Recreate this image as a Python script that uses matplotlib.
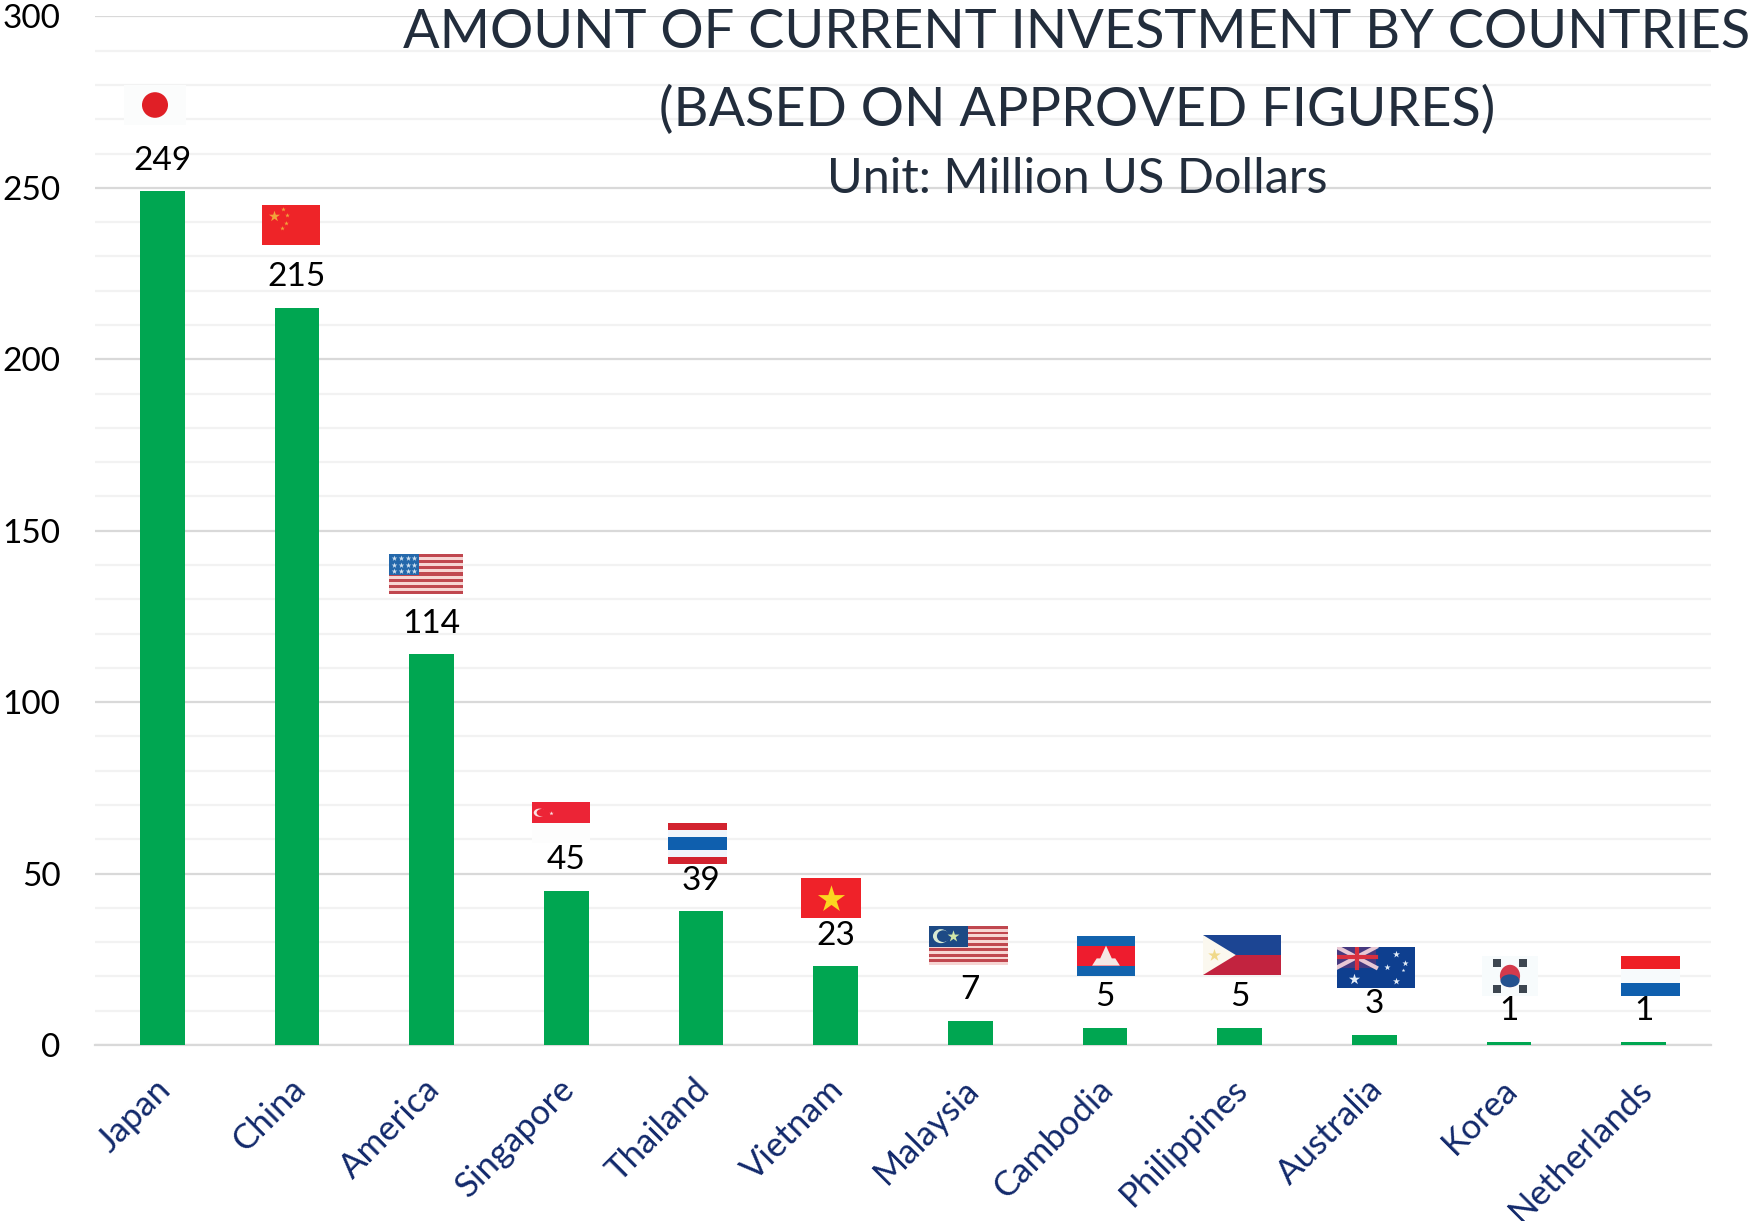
import matplotlib
matplotlib.use("Agg")
import matplotlib.pyplot as plt
from matplotlib.patches import Circle, Ellipse, Polygon, Rectangle
from matplotlib.transforms import ScaledTranslation
import numpy as np

plt.rcParams['font.family'] = ['Lato', 'DejaVu Sans']

countries = ["Japan", "China", "America", "Singapore", "Thailand", "Vietnam",
             "Malaysia", "Cambodia", "Philippines", "Australia", "Korea", "Netherlands"]
investment = [249, 215, 114, 45, 39, 23, 7, 5, 5, 3, 1, 1]
y_ticks = [0, 50, 100, 150, 200, 250, 300]
minor_ticks = [10, 20, 30, 40, 60, 70, 80, 90, 110, 120, 130, 140,
               160, 170, 180, 190, 210, 220, 230, 240, 260, 270, 280, 290]

W, H = 1750, 1221
# flag boxes in pixels: left, top, width, height
flag_boxes = [(124, 85, 62, 40), (262, 205, 58, 40), (389, 554, 74, 40), (532, 802, 58, 41),
              (668, 823, 59, 41), (801, 878, 60, 40), (929, 926, 79, 39), (1077, 936, 58, 40),
              (1203, 935, 78, 40), (1337, 947, 78, 41), (1482, 956, 56, 40), (1621, 956, 59, 40)]


def stripes(ax, colors, weights=None):
    weights = weights or [1] * len(colors)
    edges = np.cumsum([0] + weights) / sum(weights)
    for c, a, b in zip(colors, edges[:-1], edges[1:]):
        ax.add_patch(Rectangle((0, 1 - b), 1, b - a, color=c, lw=0))


def star(ax, x, y, r, color):
    ax.scatter([x], [y], marker="*", s=r, color=color, lw=0, zorder=5)


def us_like(ax, canton, width, n=13):
    stripes(ax, ["#c0474f" if i % 2 == 0 else "#f6d5d3" for i in range(n)])
    ax.add_patch(Rectangle((0, 0.47), width, 0.53, color=canton, lw=0, zorder=3))


def draw_flag(ax, name):
    if name == "Japan":
        ax.add_patch(Rectangle((0, 0), 1, 1, color="#fbfcfc", lw=0))
        ax.add_patch(Ellipse((0.5, 0.5), 0.42, 0.64, color="#e01f26", lw=0, zorder=3))
    elif name == "China":
        stripes(ax, ["#ee2428"])
        star(ax, 0.2, 0.72, 70, "#f2a33a")
        for x, y in [(0.36, 0.9), (0.43, 0.75), (0.42, 0.55), (0.34, 0.42)]:
            star(ax, x, y, 12, "#f2a33a")
    elif name == "America":
        us_like(ax, "#2468ab", 0.4)
        for x in [0.07, 0.16, 0.25, 0.34]:
            for y in [0.57, 0.73, 0.9]:
                star(ax, x, y, 18, "#cfe0ef")
    elif name == "Singapore":
        stripes(ax, ["#ec2436", "#fdfdfd"])
        ax.add_patch(Circle((0.13, 0.74), 0.1, color="#fbe4e4", lw=0, zorder=3))
        ax.add_patch(Circle((0.17, 0.74), 0.09, color="#ec2436", lw=0, zorder=4))
        star(ax, 0.33, 0.74, 10, "#fbe4e4")
    elif name == "Thailand":
        stripes(ax, ["#d2232f", "#f1f5fb", "#0f5fae", "#f1f5fb", "#d2232f"], [1, 1, 2, 1, 1])
    elif name == "Vietnam":
        stripes(ax, ["#ef2229"])
        star(ax, 0.5, 0.48, 420, "#fbd620")
    elif name == "Malaysia":
        us_like(ax, "#1d4a85", 0.5, n=14)
        ax.add_patch(Ellipse((0.15, 0.74), 0.2, 0.36, color="#d8ead3", lw=0, zorder=4))
        ax.add_patch(Ellipse((0.18, 0.74), 0.16, 0.3, color="#1d4a85", lw=0, zorder=5))
        star(ax, 0.3, 0.74, 80, "#cfe6a8")
    elif name == "Cambodia":
        stripes(ax, ["#1263ad", "#ee1c2e", "#1263ad"], [1, 2, 1])
        ax.add_patch(Polygon([(0.26, 0.26), (0.74, 0.26), (0.66, 0.44), (0.6, 0.44), (0.5, 0.76),
                              (0.4, 0.44), (0.34, 0.44)], color="#f5e8e5", lw=0, zorder=3))
    elif name == "Philippines":
        stripes(ax, ["#1c4593", "#c2233f"])
        ax.add_patch(Polygon([(0, 0), (0, 1), (0.42, 0.5)], color="#fbf8ef", lw=0, zorder=3))
        star(ax, 0.14, 0.5, 90, "#f0d98a")
    elif name == "Australia":
        stripes(ax, ["#0e3f8f"])
        ax.add_patch(Rectangle((0, 0.5), 0.5, 0.5, color="#46397f", lw=0, zorder=2))
        ax.plot([0, 0.5], [0.5, 1], color="#e8c8d4", lw=3, zorder=3)
        ax.plot([0, 0.5], [1, 0.5], color="#e8c8d4", lw=3, zorder=3)
        ax.plot([0.25, 0.25], [0.5, 1], color="#d8303f", lw=3, zorder=4)
        ax.plot([0, 0.5], [0.75, 0.75], color="#d8303f", lw=3, zorder=4)
        for x, y, s in [(0.22, 0.22, 70), (0.76, 0.82, 28), (0.64, 0.52, 22),
                        (0.87, 0.62, 22), (0.76, 0.18, 28), (0.85, 0.45, 8)]:
            star(ax, x, y, s, "#e4eef8")
    elif name == "Korea":
        ax.add_patch(Rectangle((0, 0), 1, 1, color="#f7fbfc", lw=0))
        ax.add_patch(Ellipse((0.5, 0.5), 0.36, 0.56, color="#d43a4b", lw=0, zorder=3))
        ax.add_patch(Ellipse((0.5, 0.38), 0.34, 0.32, color="#24528f", lw=0, zorder=4))
        for x, y in [(0.26, 0.82), (0.74, 0.82), (0.26, 0.18), (0.74, 0.18)]:
            ax.scatter([x], [y], marker="s", s=30, color="#3d4650", lw=0, zorder=3)
    elif name == "Netherlands":
        stripes(ax, ["#ee1f25", "#f7fafc", "#0f5fae"])


fig = plt.figure(figsize=(W / 100, H / 100), dpi=100)
ax = fig.add_axes([95 / W, 1 - 1045 / H, (1711 - 95) / W, (1045 - 16.4) / H])

x = np.arange(len(countries))
ax.bar(x, investment, width=0.33, color="#00a651", zorder=3)
ax.set_xlim(-0.5, len(countries) - 0.5)
ax.set_ylim(0, 300)

ax.set_yticks(y_ticks)
ax.set_yticks(minor_ticks, minor=True)
ax.grid(axis="y", which="major", color="#d9d9d9", lw=1.6, zorder=0)
ax.grid(axis="y", which="minor", color="#f2f2f2", lw=1.6, zorder=0)
ax.tick_params(axis="y", which="both", length=0, pad=25, labelsize=24)
ax.tick_params(axis="x", length=0, pad=20)
for side in ["top", "right", "left"]:
    ax.spines[side].set_visible(False)
ax.spines["bottom"].set_color("#d9d9d9")
ax.spines["bottom"].set_linewidth(1.6)

ax.set_xticks(x)
ax.set_xticklabels(countries, rotation=45, ha="right", rotation_mode="anchor",
                   fontsize=25, color="#12296b")
shift = ScaledTranslation(-8 / 100, 0, fig.dpi_scale_trans)
for lab in ax.get_xticklabels():
    lab.set_transform(lab.get_transform() + shift)

for xi, v in zip(x, investment):
    ax.annotate(str(v), (xi, v), xytext=(0, 22), textcoords="offset points",
                ha="center", va="center", fontsize=24, color="black", zorder=6)

fig.text(1077 / W, 1 - 33 / H, "AMOUNT OF CURRENT INVESTMENT BY COUNTRIES",
         ha="center", va="center", fontsize=39, color="#222d3c")
fig.text(1077 / W, 1 - 110 / H, "(BASED ON APPROVED FIGURES)",
         ha="center", va="center", fontsize=39, color="#222d3c")
fig.text(1077 / W, 1 - 179 / H, "Unit: Million US Dollars",
         ha="center", va="center", fontsize=35, color="#222d3c")

for name, (left, top, w, h) in zip(countries, flag_boxes):
    fax = fig.add_axes([left / W, 1 - (top + h) / H, w / W, h / H], zorder=5)
    fax.set_xlim(0, 1)
    fax.set_ylim(0, 1)
    fax.axis("off")
    draw_flag(fax, name)

fig.savefig("out.png", dpi=100)
